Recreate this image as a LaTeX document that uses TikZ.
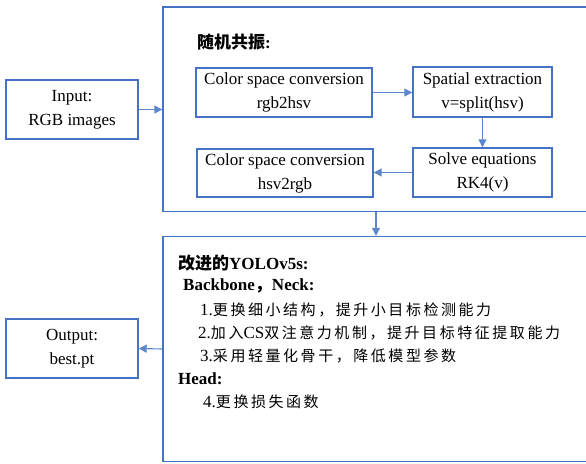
\documentclass[tikz,border=0pt]{standalone}
\usepackage{fontspec}
\setmainfont{Liberation Serif}
\newfontfamily\cjk{Noto Sans CJK SC}
\newfontfamily\cjkls[LetterSpace=17]{Noto Sans CJK SC}
\usetikzlibrary{arrows.meta,positioning,calc}
\definecolor{boxblue}{RGB}{68,114,196}
\definecolor{lineblue}{RGB}{92,135,205}

\begin{document}
\begin{tikzpicture}[x=1pt,y=-1pt,
  blk/.style={draw=boxblue,line width=1.4pt,inner sep=0pt,align=center,
    font=\fontsize{17}{24}\selectfont},
  frame/.style={draw=boxblue,line width=1.4pt,inner sep=0pt},
  txt/.style={anchor=west,inner sep=0pt,font=\fontsize{17}{22}\selectfont},
  link/.style={draw=lineblue,line width=1.1pt,-{Triangle[length=8pt,width=8pt]}}]
  \useasboundingbox (0,0) rectangle (586,463); % 画面の範囲
  % 外枠（右端は画面の外まで伸びる）
  \node[frame,minimum width=432,minimum height=204.5] (topframe) at (379,109.25) {};
  \node[frame,minimum width=432,minimum height=225] (botframe) at (379,349) {};
  % 入力と出力
  \node[blk,minimum width=132,minimum height=59] (input) at (72,109.5) {Input:\\RGB images};
  \node[blk,minimum width=132,minimum height=59] (output) at (72,348.5) {Output:\\best.pt};
  % 随机共振の中の四つの箱
  \node[txt,font=\fontsize{17}{20}\selectfont\bfseries] (srtitle) at (197,42) {{\cjk 随机共振}:};
  \node[blk,minimum width=176,minimum height=49] (rgbhsv) at (284,92.5) {Color space conversion\\rgb2hsv};
  \node[blk,minimum width=139,minimum height=50] (split) at (482.5,92) {Spatial extraction\\v=split(hsv)};
  \node[blk,minimum width=139,minimum height=49] (solve) at (482.5,172.5) {Solve equations\\RK4(v)};
  \node[blk,minimum width=176,minimum height=48] (hsvrgb) at (285,173) {Color space conversion\\hsv2rgb};
  % 改进的YOLOv5sの文
  \node[txt,font=\fontsize{17}{22}\selectfont\bfseries] (yolotitle) at (178,263) {{\cjk 改进的}YOLOv5s:};
  \node[txt,font=\fontsize{17}{22}\selectfont\bfseries] (bbneck) at (183,286) {Backbone{\cjk ，}Neck:};
  \node[txt] (item1) at (200,310) {1.{\fontsize{15}{20}\selectfont\cjkls 更换细小结构，提升小目标检测能力}};
  \node[txt] (item2) at (198,333) {2.{\fontsize{15}{20}\selectfont\cjkls 加入}CS{\fontsize{15}{20}\selectfont\cjkls 双注意力机制，提升目标特征提取能力}};
  \node[txt] (item3) at (200,356) {3.{\fontsize{15}{20}\selectfont\cjkls 采用轻量化骨干，降低模型参数}};
  \node[txt,font=\fontsize{17}{22}\selectfont\bfseries] (headlbl) at (178,379) {Head:};
  \node[txt] (item4) at (203,402) {4.{\fontsize{15}{20}\selectfont\cjkls 更换损失函数}};
  % 矢印
  \draw[link] (input.east) -- (input.east -| topframe.west);
  \draw[link] (rgbhsv.east) -- (rgbhsv.east -| split.west);
  \draw[link] (split.south) -- (solve.north);
  \draw[link] (solve.west) -- (solve.west -| hsvrgb.east);
  \coordinate (drop) at (376,0);
  \draw[link] (topframe.south -| drop) -- (botframe.north -| drop);
  \draw[link] (botframe.west) -- (output.east);
\end{tikzpicture}
\end{document}
